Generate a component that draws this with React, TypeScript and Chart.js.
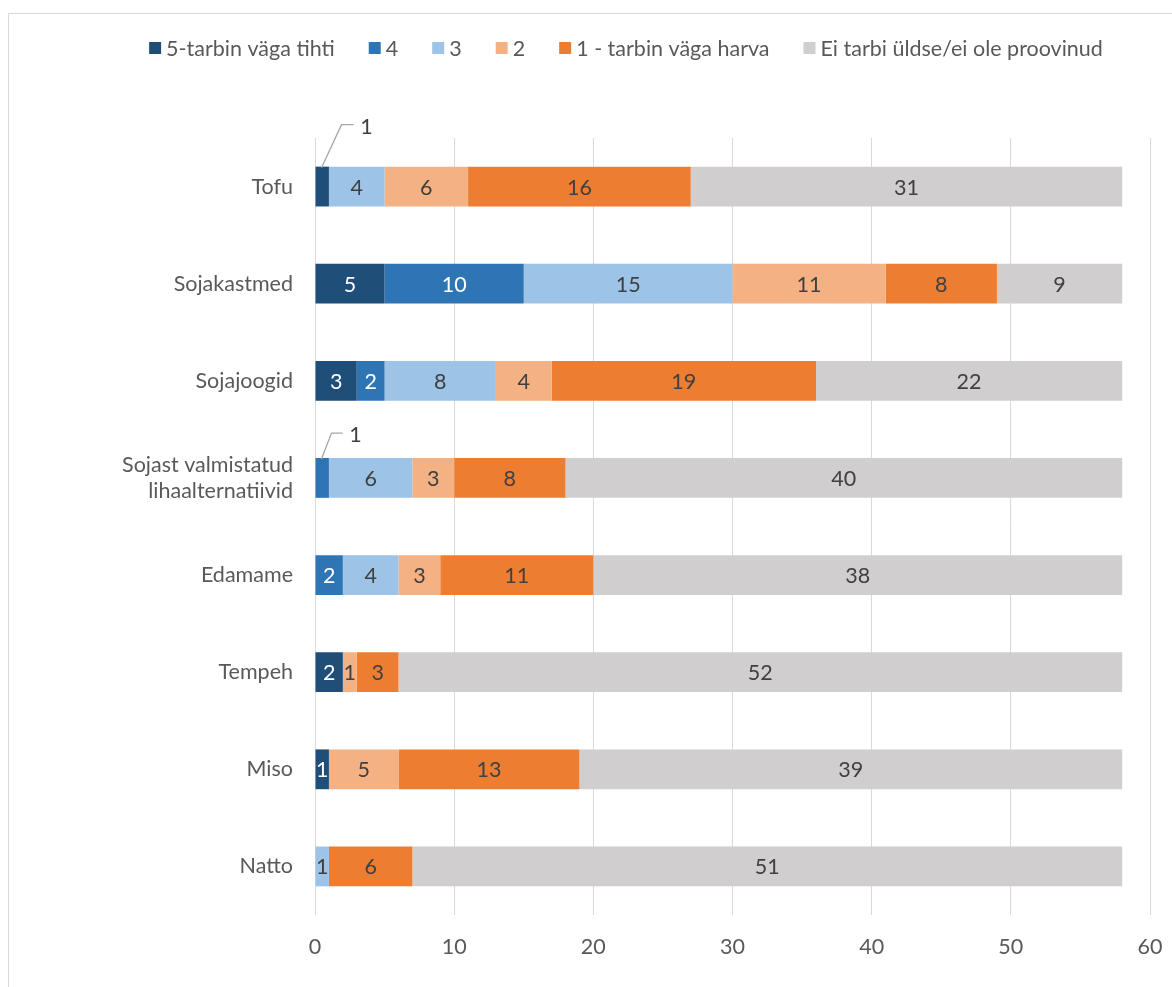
import { useEffect, useRef } from "react";
import { Chart, registerables } from "chart.js";

Chart.register(...registerables);

const categories: (string | string[])[] = [
  "Tofu",
  "Sojakastmed",
  "Sojajoogid",
  ["Sojast valmistatud", "lihaalternatiivid"],
  "Edamame",
  "Tempeh",
  "Miso",
  "Natto",
];
const seriesLabels = [
  "5-tarbin väga tihti",
  "4",
  "3",
  "2",
  "1 - tarbin väga harva",
  "Ei tarbi üldse/ei ole proovinud",
];
const v5 = [1, 5, 3, 0, 0, 2, 1, 0];
const v4 = [0, 10, 2, 1, 2, 0, 0, 0];
const v3 = [4, 15, 8, 6, 4, 0, 0, 1];
const v2 = [6, 11, 4, 3, 3, 1, 5, 0];
const v1 = [16, 8, 19, 8, 11, 3, 13, 6];
const vNone = [31, 9, 22, 40, 38, 52, 39, 51];
const xTicks = [0, 10, 20, 30, 40, 50, 60];

const seriesValues = [v5, v4, v3, v2, v1, vNone];
const colors = ["#1F4E79", "#2E75B6", "#9DC3E6", "#F4B183", "#ED7D31", "#D0CECE"];
const labelColors = ["#FFFFFF", "#FFFFFF", "#404040", "#404040", "#404040", "#404040"];
// callouts: dataset index, category index, leader-line geometry (styling)
const callouts = [
  { ds: 0, idx: 0, dx1: 20, dy1: -43, len: 12 },
  { ds: 1, idx: 3, dx1: 10, dy1: -26, len: 11 },
];

const FONT = "Lato, 'Noto Sans', sans-serif";
const FS = 21.5;

const framePlugin = {
  id: "frame",
  beforeDraw(chart: any) {
    const ctx = chart.ctx;
    ctx.save();
    ctx.fillStyle = "#FFFFFF";
    ctx.fillRect(0, 0, chart.width, chart.height);
    ctx.strokeStyle = "#D9D9D9";
    ctx.lineWidth = 1;
    ctx.strokeRect(8.5, 13.5, 1400, 1200);
    ctx.restore();
  },
};

const legendPlugin = {
  id: "customLegend",
  afterDraw(chart: any) {
    const ctx = chart.ctx;
    ctx.save();
    ctx.font = `${FS}px ${FONT}`;
    ctx.textBaseline = "middle";
    const box = 12;
    const gapBoxText = 5;
    const gapItems = 34;
    const widths = seriesLabels.map((l) => box + gapBoxText + ctx.measureText(l).width);
    const total = widths.reduce((a, b) => a + b, 0) + gapItems * (widths.length - 1);
    let x = 626 - total / 2;
    const y = 48;
    seriesLabels.forEach((l, i) => {
      ctx.fillStyle = colors[i];
      ctx.fillRect(x, y - box / 2, box, box);
      ctx.fillStyle = "#595959";
      ctx.textAlign = "left";
      ctx.fillText(l, x + box + gapBoxText, y + 1);
      x += widths[i] + gapItems;
    });
    ctx.restore();
  },
};

const dataLabelPlugin = {
  id: "dataLabels",
  afterDatasetsDraw(chart: any) {
    const ctx = chart.ctx;
    ctx.save();
    ctx.font = `${FS}px ${FONT}`;
    ctx.textBaseline = "middle";
    ctx.textAlign = "center";
    chart.data.datasets.forEach((ds: any, di: number) => {
      const meta = chart.getDatasetMeta(di);
      meta.data.forEach((el: any, i: number) => {
        const val = ds.data[i];
        if (!val) return;
        const co = callouts.find((c) => c.ds === di && c.idx === i);
        const left = Math.min(el.x, el.base);
        const right = Math.max(el.x, el.base);
        const top = el.y - el.height / 2;
        if (co) {
          const sx = left + 6;
          const sy = top + 1;
          const ex = sx + co.dx1;
          const ey = sy + co.dy1;
          ctx.strokeStyle = "#A6A6A6";
          ctx.lineWidth = 1.3;
          ctx.beginPath();
          ctx.moveTo(sx, sy);
          ctx.lineTo(ex, ey);
          ctx.lineTo(ex + co.len, ey);
          ctx.stroke();
          ctx.fillStyle = "#404040";
          ctx.fillText(String(val), ex + co.len + 13, ey + 2);
        } else {
          ctx.fillStyle = labelColors[di];
          ctx.fillText(String(val), (left + right) / 2, el.y + 1);
        }
      });
    });
    ctx.restore();
  },
};

export default function App() {
  const ref = useRef<HTMLCanvasElement | null>(null);
  useEffect(() => {
    if (!ref.current) return;
    const chart = new Chart(ref.current, {
      type: "bar",
      data: {
        labels: categories as any,
        datasets: seriesLabels.map((l, i) => ({
          label: l,
          data: seriesValues[i],
          backgroundColor: colors[i],
          borderWidth: 0,
          categoryPercentage: 1,
          barPercentage: 0.41,
        })),
      },
      options: {
        indexAxis: "y",
        animation: false,
        responsive: false,
        maintainAspectRatio: false,
        layout: { padding: { top: 138, bottom: 27, left: 0, right: 22 } },
        plugins: { legend: { display: false }, tooltip: { enabled: false } },
        scales: {
          x: {
            stacked: true,
            min: 0,
            max: 60,
            afterBuildTicks: (s: any) => {
              s.ticks = xTicks.map((v) => ({ value: v }));
            },
            afterFit: (s: any) => {
              s.height = 45;
              s.paddingRight = 0;
              s.paddingLeft = 0;
            },
            grid: { color: "#D9D9D9", lineWidth: 1, drawTicks: false },
            border: { display: false },
            ticks: {
              padding: 19,
              color: "#595959",
              font: { size: FS, family: FONT },
              maxRotation: 0,
            },
          },
          y: {
            stacked: true,
            afterFit: (s: any) => {
              s.width = 315;
            },
            grid: { display: false, drawTicks: false },
            border: { display: false },
            ticks: {
              padding: 22,
              color: "#595959",
              font: { size: FS, family: FONT, lineHeight: 1.2 },
            },
          },
        },
      },
      plugins: [framePlugin, dataLabelPlugin, legendPlugin],
    });
    return () => chart.destroy();
  }, []);
  return (
    <div style={{ position: "absolute", left: 0, top: 0, width: 1172, height: 987 }}>
      <canvas ref={ref} width={1172} height={987} />
    </div>
  );
}
